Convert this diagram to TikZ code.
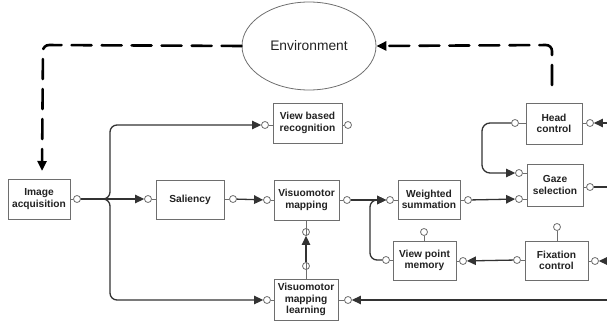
\documentclass[tikz,border=0pt]{standalone}
\usepackage{fontspec}
\setmainfont{Liberation Sans}
\usetikzlibrary{arrows.meta,shapes.geometric}
\definecolor{boxgray}{HTML}{6E6E6E}
\definecolor{wiregray}{HTML}{333333}
\definecolor{txt}{HTML}{222222}
\begin{document}
\begin{tikzpicture}[x=1pt,y=-1pt,
  box/.style={draw=boxgray, line width=0.9pt, fill=white, inner sep=0pt, align=center,
    text=txt, font=\bfseries\fontsize{10.2}{11.5}\selectfont},
  port/.style={circle, draw=boxgray, fill=white, minimum size=7pt, inner sep=0pt, line width=0.8pt},
  stub/.style={draw=boxgray, line width=0.8pt},
  wire/.style={draw=wiregray, line width=1.3pt},
  arr/.style={-{Triangle[length=9pt,width=8.5pt]}},
  envline/.style={draw=black, line width=2.6pt, dash pattern=on 20pt off 10pt, line cap=round, rounded corners=6pt}
]
\useasboundingbox (0,0) rectangle (607,323);

% environment
\node[ellipse, draw=boxgray, line width=0.8pt, minimum width=134pt, minimum height=88pt, inner sep=0pt,
  font=\fontsize{13.8}{15}\selectfont, text=txt] (env) at (309,46) {Environment};

% boxes
\node[box, minimum width=62pt, minimum height=40pt] (ia)  at (39,199)    {Image\\acquisition};
\node[box, minimum width=68pt, minimum height=39pt] (sal) at (190,199.5) {Saliency};
\node[box, minimum width=65pt, minimum height=40pt] (vm)  at (306.5,200) {Visuomotor\\mapping};
\node[box, minimum width=69pt, minimum height=40pt] (vbr) at (307.5,123) {View based\\recognition};
\node[box, minimum width=64pt, minimum height=41pt] (vml) at (306,299.5) {Visuomotor\\mapping\\learning};
\node[box, minimum width=62pt, minimum height=39pt] (ws)  at (429,199.5) {Weighted\\summation};
\node[box, minimum width=63pt, minimum height=39pt] (vpm) at (424.5,260.5) {View point\\memory};
\node[box, minimum width=56pt, minimum height=41pt] (hc)  at (554,123.5) {Head\\control};
\node[box, minimum width=56pt, minimum height=42pt] (gs)  at (555,185)   {Gaze\\selection};
\node[box, minimum width=63pt, minimum height=39pt] (fc)  at (556.5,260.5) {Fixation\\control};

% ports
\node[port] (ia-o)  at (77,199) {};
\node[port] (sal-i) at (148,199) {};
\node[port] (sal-o) at (233,199) {};
\node[port] (vm-i)  at (267,200) {};
\node[port] (vm-o)  at (347,200) {};
\node[port] (vm-b)  at (306,232) {};
\node[port] (vbr-i) at (265,125) {};
\node[port] (vbr-o) at (348,125) {};
\node[port] (vml-t) at (306,266) {};
\node[port] (vml-i) at (267,300) {};
\node[port] (vml-o) at (348,300) {};
\node[port] (ws-i)  at (390,200) {};
\node[port] (ws-o)  at (468,200) {};
\node[port] (vpm-l) at (386,260) {};
\node[port] (vpm-r) at (463,261) {};
\node[port] (vpm-t) at (424,232) {};
\node[port] (hc-l)  at (515,123) {};
\node[port] (hc-r)  at (590,123) {};
\node[port] (gs-i1) at (519,173) {};
\node[port] (gs-i2) at (519,199) {};
\node[port] (gs-o)  at (590,187) {};
\node[port] (fc-l)  at (517,260) {};
\node[port] (fc-r)  at (595,261) {};
\node[port] (fc-t)  at (557,227) {};

% stubs
\foreach \p/\b in {ia-o/ia, vm-o/vm, vbr-o/vbr, vml-o/vml, ws-o/ws, vpm-r/vpm, hc-r/hc, gs-o/gs, fc-r/fc}
  \draw[stub] (\p.west) -- (\p -| \b.east);
\foreach \p/\b in {sal-i/sal, vm-i/vm, vbr-i/vbr, vml-i/vml, ws-i/ws, vpm-l/vpm, hc-l/hc, gs-i1/gs, gs-i2/gs, fc-l/fc}
  \draw[stub] (\p.east) -- (\p -| \b.west);
\draw[stub] (sal-o.west) -- (sal-o -| sal.east);
\draw[stub] (vm-b.south) -- (vm-b |- vm.south);
\draw[stub] (vml-t.north) -- (vml-t |- vml.north);
\draw[stub] (vpm-t.south) -- (vpm-t |- vpm.north);
\draw[stub] (fc-t.south) -- (fc-t |- fc.north);

% coordinates
\coordinate (br)  at (110,199);
\coordinate (mj)  at (370,200);
\coordinate (hj)  at (482,173);
\coordinate (r1)  at (607,123);
\coordinate (r2)  at (607,187);
\coordinate (r3)  at (607,261);
\coordinate (r4)  at (607,300);
\coordinate (dl)  at (43,45);
\coordinate (dlt) at (42,171);
\coordinate (dr)  at (552,45);
\coordinate (drb) at (552,85);

% wires
\draw[wire, arr] (ia-o) -- (sal-i);
\draw[wire, arr, rounded corners=7pt] (ia-o) -- (br) |- (vbr-i);
\draw[wire, arr, rounded corners=7pt] (ia-o) -- (br) |- (vml-i);
\draw[wire, arr] (sal-o) -- (vm-i);
\draw[wire, arr] (vm-o) -- (ws-i);
\draw[wire, arr, rounded corners=7pt] (vpm-l) -| (mj) -- (ws-i);
\draw[wire, arr] (ws-o) -- (gs-i2);
\draw[wire, arr, rounded corners=8pt] (hc-l) -| (hj) -- (gs-i1);
\draw[wire, arr] (fc-l) -- (vpm-r);
\draw[wire, arr] (vml-t) -- (vm-b);
\draw[wire, arr] (r1) -- (hc-r);
\draw[wire] (gs-o) -- (r2);
\draw[wire, arr] (r3) -- (fc-r);
\draw[wire, arr] (r4) -- (vml-o);

% environment loop
\draw[envline, -{Triangle[length=10pt,width=9pt]}] (env.west) -- (dl) -- (dlt);
\draw[envline, -{Triangle[length=10pt,width=9pt]}] (drb) -- (dr) -- (env.east);
\end{tikzpicture}
\end{document}
